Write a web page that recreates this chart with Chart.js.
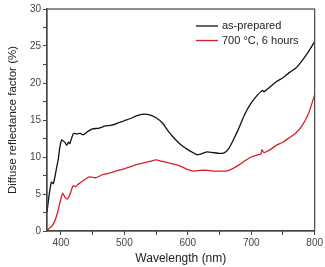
<!DOCTYPE html>
<html>
<head>
<meta charset="utf-8">
<script src="https://cdn.jsdelivr.net/npm/chart.js@4/dist/chart.umd.min.js"></script>
<style>
  body { margin: 0; background: #fff; }
  canvas { display: block; }
</style>
</head>
<body>
<canvas id="myChart" width="325" height="267"></canvas>
<script>
// datos (nm, %)
const wlPrepared = [378, 380, 383, 385, 388, 390, 393, 396, 398, 401, 403, 406, 409, 412, 414, 417, 420, 425, 430, 435, 440, 445, 450, 460, 470, 480, 490, 500, 510, 520, 530, 540, 550, 560, 570, 580, 590, 600, 610, 615, 620, 630, 640, 650, 655, 660, 665, 670, 680, 690, 700, 710, 715, 718, 720, 730, 740, 750, 760, 770, 780, 790, 800];
const valPrepared = [2.5, 4.0, 5.8, 6.6, 6.4, 7.1, 8.5, 9.8, 11.2, 12.3, 12.2, 12.0, 11.6, 12.0, 11.8, 12.6, 13.2, 13.1, 13.2, 13.0, 13.3, 13.6, 13.8, 13.9, 14.2, 14.3, 14.6, 14.9, 15.2, 15.6, 15.8, 15.7, 15.3, 14.6, 13.4, 12.4, 11.6, 11.0, 10.5, 10.3, 10.4, 10.7, 10.6, 10.5, 10.5, 10.7, 11.2, 12.0, 13.8, 15.8, 17.3, 18.4, 18.8, 19.0, 18.8, 19.5, 20.2, 20.7, 21.4, 22.0, 23.0, 24.2, 25.6];

const wl700 = [378, 382, 386, 390, 394, 398, 401, 403, 406, 410, 414, 419, 423, 427, 435, 445, 455, 465, 475, 490, 500, 510, 520, 530, 540, 550, 560, 570, 580, 590, 600, 610, 620, 630, 640, 650, 660, 670, 680, 690, 700, 710, 715, 717, 720, 730, 740, 750, 760, 770, 780, 790, 800];
const val700 = [0.1, 0.4, 0.7, 1.3, 2.3, 3.7, 4.7, 5.1, 4.6, 4.3, 4.9, 6.1, 6.0, 6.3, 6.8, 7.3, 7.2, 7.6, 7.8, 8.2, 8.4, 8.7, 9.0, 9.2, 9.4, 9.6, 9.4, 9.2, 9.0, 8.7, 8.3, 8.1, 8.2, 8.2, 8.1, 8.1, 8.1, 8.4, 8.9, 9.5, 10.0, 10.3, 10.4, 11.0, 10.6, 11.0, 11.6, 12.0, 12.6, 13.2, 14.2, 15.8, 18.4];

const seriesNames = ['as-prepared', '700 °C, 6 hours'];
const xTicks = [400, 450, 500, 550, 600, 650, 700, 750, 800];
const yTicks = [0, 2.5, 5, 7.5, 10, 12.5, 15, 17.5, 20, 22.5, 25, 27.5, 30];

function toPoints(xs, ys) {
  let pts = [];
  for (let i = 0; i < xs.length; i++) {
    pts.push({ x: xs[i], y: ys[i] });
  }
  return pts;
}

const axisColor = '#444';

// marco y leyenda dentro del area
const framePlugin = {
  id: 'frame',
  afterDatasetsDraw(chart) {
    const ctx = chart.ctx;
    const a = chart.chartArea;
    ctx.save();
    ctx.strokeStyle = axisColor;
    ctx.lineWidth = 1.2;
    ctx.strokeRect(a.left, a.top, a.right - a.left, a.bottom - a.top);

    ctx.font = '11px "Liberation Sans", Arial, sans-serif';
    ctx.textBaseline = 'middle';
    chart.data.datasets.forEach((ds, i) => {
      let y = 26 + i * 14.5;
      ctx.strokeStyle = ds.borderColor;
      ctx.lineWidth = 1.3;
      ctx.beginPath();
      ctx.moveTo(196, y);
      ctx.lineTo(218, y);
      ctx.stroke();
      ctx.fillStyle = '#222';
      ctx.fillText(ds.label, 222, y);
    });
    ctx.restore();
  }
};

const tickFont = { family: '"Liberation Sans", Arial, sans-serif', size: 10 };

const chart = new Chart(document.getElementById('myChart').getContext('2d'), {
  type: 'line',
  data: {
    datasets: [
      {
        label: seriesNames[0],
        data: toPoints(wlPrepared, valPrepared),
        borderColor: '#111',
        borderWidth: 1.3,
        pointRadius: 0,
        tension: 0.2
      },
      {
        label: seriesNames[1],
        data: toPoints(wl700, val700),
        borderColor: '#d61f26',
        borderWidth: 1.3,
        pointRadius: 0,
        tension: 0.2
      }
    ]
  },
  options: {
    responsive: false,
    animation: false,
    devicePixelRatio: 1,
    layout: { padding: { top: 9, right: 9, left: 0, bottom: 0 } },
    plugins: {
      legend: { display: false },
      tooltip: { enabled: false }
    },
    scales: {
      x: {
        type: 'linear',
        min: 378,
        max: 800,
        afterBuildTicks: s => { s.ticks = xTicks.map(v => ({ value: v })); },
        afterFit: s => { s.height = 36; },
        ticks: {
          autoSkip: false,
          maxRotation: 0,
          padding: 2,
          color: '#444',
          font: tickFont,
          callback: v => (v % 100 === 0 ? v : '')
        },
        grid: { drawOnChartArea: false, tickLength: 4, color: axisColor, tickWidth: 1 },
        border: { color: axisColor, width: 1.2 },
        title: {
          display: true,
          text: 'Wavelength (nm)',
          color: '#222',
          font: { family: '"Liberation Sans", Arial, sans-serif', size: 12 },
          padding: { top: 0, bottom: 1 }
        }
      },
      y: {
        min: 0,
        max: 30,
        afterBuildTicks: s => { s.ticks = yTicks.map(v => ({ value: v })); },
        afterFit: s => { s.width = 47; },
        ticks: {
          autoSkip: false,
          padding: 2,
          color: '#444',
          font: tickFont,
          callback: v => (v % 5 === 0 ? v : '')
        },
        grid: { drawOnChartArea: false, tickLength: 4, color: axisColor, tickWidth: 1 },
        border: { color: axisColor, width: 1.2 },
        title: {
          display: true,
          text: 'Diffuse reflectance factor (%)',
          color: '#222',
          font: { family: '"Liberation Sans", Arial, sans-serif', size: 11.5 },
          padding: { top: 6, bottom: 0 }
        }
      }
    }
  },
  plugins: [framePlugin]
});
</script>
</body>
</html>
